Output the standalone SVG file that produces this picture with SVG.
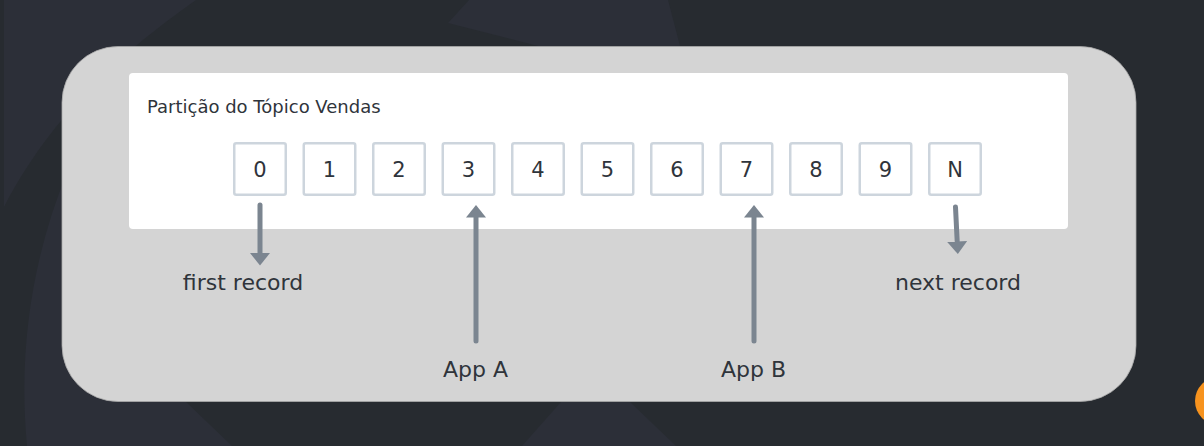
<svg xmlns="http://www.w3.org/2000/svg" width="1204" height="446" viewBox="0 0 1204 446">
  <style>
    .bgs { fill: #2c2f38; }
    .box { fill: #ffffff; stroke: #cdd5dd; stroke-width: 2.5; }
    .dig { font-family: "DejaVu Sans", sans-serif; font-size: 21px; fill: #2f343b; text-anchor: middle; }
    .lbl { font-family: "DejaVu Sans", sans-serif; font-size: 22px; fill: #2f343b; text-anchor: middle; }
    .ttl { font-family: "DejaVu Sans", sans-serif; font-size: 18px; fill: #2f343b; }
    .arr { stroke: #7b8590; stroke-width: 5; fill: none; stroke-linecap: round; marker-end: url(#head); }
  </style>
  <defs>
    <marker id="head" markerUnits="userSpaceOnUse" viewBox="0 -10 13 20" refX="0" refY="0" markerWidth="13" markerHeight="20" orient="auto">
      <path d="M0,-10 L12.5,0 L0,10 Z" fill="#7b8590"/>
    </marker>
  </defs>

  <!-- background -->
  <rect x="0" y="0" width="1204" height="446" fill="#272b30"/>
  <path class="bgs" d="M4,0 L196,0 C140,40 60,100 4,207 Z"/>
  <path class="bgs" d="M469,0 L668,0 L680,46 L538,46 L448,23 Z"/>
  <path class="bgs" d="M66,175 C32,260 18,350 27,446 L232,446 L184,400 L184,175 Z"/>
  <path class="bgs" d="M561,402 L630,402 L676,446 L522,446 Z"/>
  <circle cx="1219" cy="401" r="24" fill="#f7931e"/>

  <!-- container -->
  <g id="container">
    <rect x="62" y="46.5" width="1074" height="355" rx="56" ry="56" fill="#d4d4d4" stroke="#a9a9a9" stroke-width="0.8"/>
  </g>

  <g id="partition">
    <rect x="129" y="73" width="939" height="156" rx="4" fill="#ffffff"/>
    <text class="ttl" x="147" y="112.5">Partição do Tópico Vendas</text>
  </g>

  <g id="offset-0"><rect class="box" x="234.25" y="143.25" width="51.5" height="51.5" rx="2"/><text class="dig" x="260" y="177">0</text></g>
  <g id="offset-1"><rect class="box" x="303.75" y="143.25" width="51.5" height="51.5" rx="2"/><text class="dig" x="329.5" y="177">1</text></g>
  <g id="offset-2"><rect class="box" x="373.25" y="143.25" width="51.5" height="51.5" rx="2"/><text class="dig" x="399" y="177">2</text></g>
  <g id="offset-3"><rect class="box" x="442.75" y="143.25" width="51.5" height="51.5" rx="2"/><text class="dig" x="468.5" y="177">3</text></g>
  <g id="offset-4"><rect class="box" x="512.25" y="143.25" width="51.5" height="51.5" rx="2"/><text class="dig" x="538" y="177">4</text></g>
  <g id="offset-5"><rect class="box" x="581.75" y="143.25" width="51.5" height="51.5" rx="2"/><text class="dig" x="607.5" y="177">5</text></g>
  <g id="offset-6"><rect class="box" x="651.25" y="143.25" width="51.5" height="51.5" rx="2"/><text class="dig" x="677" y="177">6</text></g>
  <g id="offset-7"><rect class="box" x="720.75" y="143.25" width="51.5" height="51.5" rx="2"/><text class="dig" x="746.5" y="177">7</text></g>
  <g id="offset-8"><rect class="box" x="790.25" y="143.25" width="51.5" height="51.5" rx="2"/><text class="dig" x="816" y="177">8</text></g>
  <g id="offset-9"><rect class="box" x="859.75" y="143.25" width="51.5" height="51.5" rx="2"/><text class="dig" x="885.5" y="177">9</text></g>
  <g id="offset-N"><rect class="box" x="929.25" y="143.25" width="51.5" height="51.5" rx="2"/><text class="dig" x="955" y="177">N</text></g>

  <g id="connectors">
    <path class="arr" d="M260,205 L260,253"/>
    <path class="arr" d="M476,341 L476,217.5"/>
    <path class="arr" d="M754,341 L754,217.5"/>
    <path class="arr" d="M955.5,207 L957.2,241.5"/>
  </g>

  <g id="label-first"><text class="lbl" x="243" y="290">first record</text></g>
  <g id="label-next"><text class="lbl" x="958" y="290">next record</text></g>
  <g id="label-appA"><text class="lbl" x="475.5" y="377">App A</text></g>
  <g id="label-appB"><text class="lbl" x="753.5" y="377">App B</text></g>
</svg>
